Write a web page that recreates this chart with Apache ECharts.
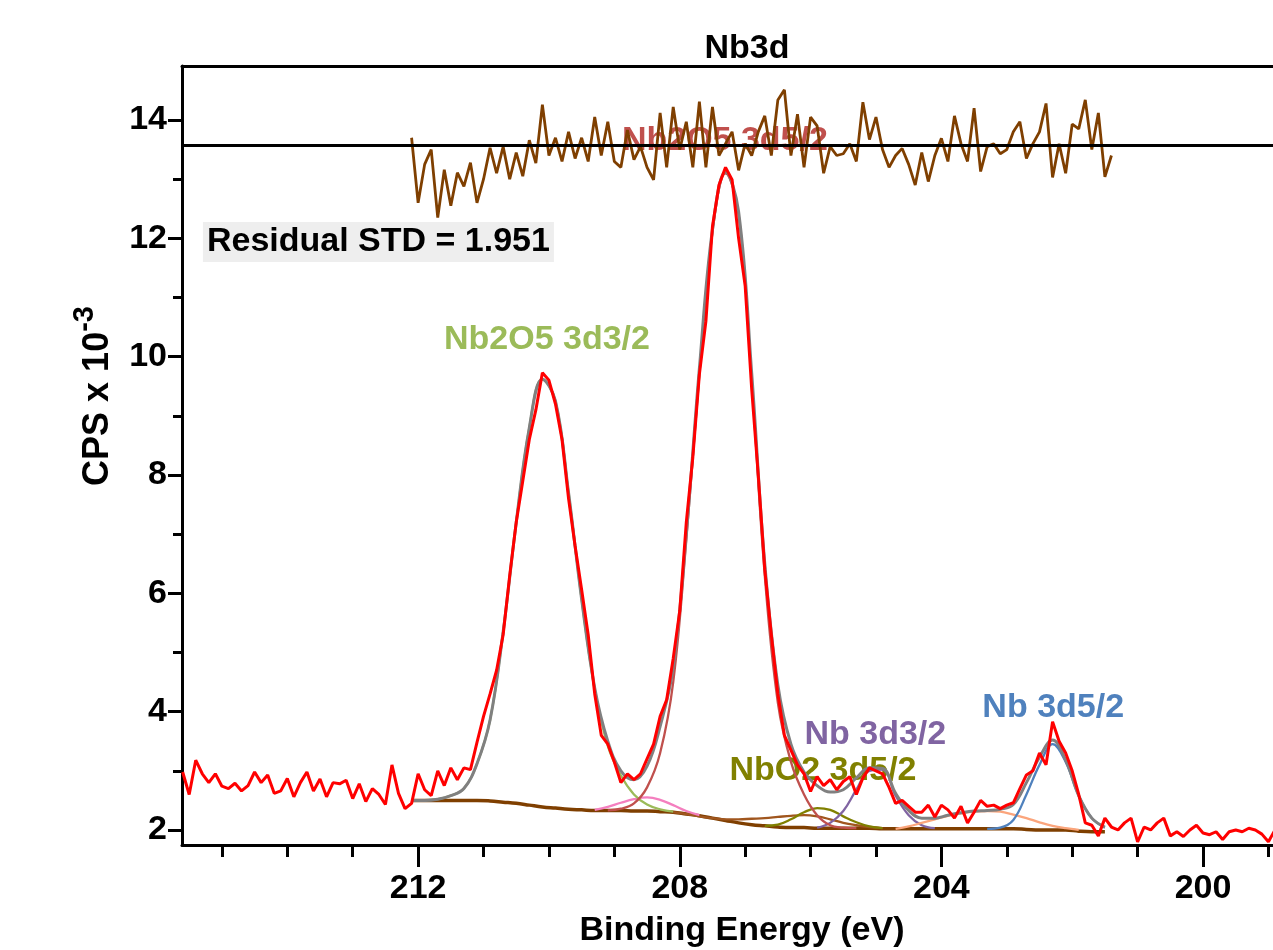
<!DOCTYPE html>
<html>
<head>
<meta charset="utf-8">
<title>Nb3d</title>
<script src="https://cdn.jsdelivr.net/npm/echarts@6.0.0/dist/echarts.min.js"></script>
<style>
  html, body { margin: 0; padding: 0; background: #fff; }
  #xpsChart { width: 1273px; height: 950px; }
</style>
</head>
<body>
<div id="xpsChart"></div>
<script>
// measured spectrum, binding energy (eV), 0.1 eV step
var rawEnergy = [
  215.6, 215.5, 215.4, 215.3, 215.2, 215.1, 215.0, 214.9, 214.8, 214.7,
  214.6, 214.5, 214.4, 214.3, 214.2, 214.1, 214.0, 213.9, 213.8, 213.7,
  213.6, 213.5, 213.4, 213.3, 213.2, 213.1, 213.0, 212.9, 212.8, 212.7,
  212.6, 212.5, 212.4, 212.3, 212.2, 212.1, 212.0, 211.9, 211.8, 211.7,
  211.6, 211.5, 211.4, 211.3, 211.2, 211.1, 211.0, 210.9, 210.8, 210.7,
  210.6, 210.5, 210.4, 210.3, 210.2, 210.1, 210.0, 209.9, 209.8, 209.7,
  209.6, 209.5, 209.4, 209.3, 209.2, 209.1, 209.0, 208.9, 208.8, 208.7,
  208.6, 208.5, 208.4, 208.3, 208.2, 208.1, 208.0, 207.9, 207.8, 207.7,
  207.6, 207.5, 207.4, 207.3, 207.2, 207.1, 207.0, 206.9, 206.8, 206.7,
  206.6, 206.5, 206.4, 206.3, 206.2, 206.1, 206.0, 205.9, 205.8, 205.7,
  205.6, 205.5, 205.4, 205.3, 205.2, 205.1, 205.0, 204.9, 204.8, 204.7,
  204.6, 204.5, 204.4, 204.3, 204.2, 204.1, 204.0, 203.9, 203.8, 203.7,
  203.6, 203.5, 203.4, 203.3, 203.2, 203.1, 203.0, 202.9, 202.8, 202.7,
  202.6, 202.5, 202.4, 202.3, 202.2, 202.1, 202.0, 201.9, 201.8, 201.7,
  201.6, 201.5, 201.4, 201.3, 201.2, 201.1, 201.0, 200.9, 200.8, 200.7,
  200.6, 200.5, 200.4, 200.3, 200.2, 200.1, 200.0, 199.9, 199.8, 199.7,
  199.6, 199.5, 199.4, 199.3, 199.2, 199.1, 199.0, 198.9
];
// CPS x 10^-3
var rawCounts = [
  2.98, 2.6, 3.18, 2.95, 2.8, 2.95, 2.74, 2.7, 2.79, 2.66,
  2.75, 2.98, 2.8, 2.93, 2.62, 2.66, 2.87, 2.56, 2.8, 2.98,
  2.66, 2.86, 2.56, 2.8, 2.78, 2.84, 2.53, 2.78, 2.48, 2.7,
  2.6, 2.43, 3.1, 2.62, 2.36, 2.45, 2.95, 2.68, 2.58, 3.0,
  2.75, 3.05, 2.85, 3.05, 3.02, 3.48, 3.92, 4.3, 4.7, 5.3,
  6.3, 7.2, 7.9, 8.6, 9.1, 9.73, 9.6, 9.2, 8.6, 7.6,
  6.8, 6.06, 5.3, 4.3, 3.6, 3.45, 3.15, 2.8, 2.95, 2.85,
  2.95, 3.2, 3.45, 3.92, 4.2, 4.9, 5.7, 7.2, 8.3, 9.7,
  10.6, 12.2, 12.9, 13.2, 12.99, 12.0, 11.2, 9.45, 8.0, 6.4,
  5.3, 4.3, 3.6, 3.35, 3.1, 2.95, 2.65, 2.9, 2.75, 2.85,
  2.68, 2.82, 2.9, 2.6, 2.88, 3.05, 3.0, 2.95, 2.72, 2.45,
  2.5, 2.4, 2.3, 2.3, 2.42, 2.22, 2.42, 2.34, 2.2, 2.4,
  2.12, 2.3, 2.5, 2.4, 2.42, 2.36, 2.42, 2.46, 2.7, 2.93,
  3.0, 3.3, 3.1, 3.83, 3.5, 3.3, 3.0, 2.6, 2.12, 2.08,
  1.9, 2.2, 2.05, 2.0, 2.12, 2.2, 1.8, 2.05, 2.0, 2.12,
  2.2, 1.9, 1.97, 1.89, 2.0, 2.08, 1.95, 1.92, 1.97, 1.84,
  1.97, 2.0, 1.97, 2.03, 2.0, 1.93, 1.8, 2.0
];

// fitted curves, 0.2 eV step
var fitEnergy = [
  212.1, 211.9, 211.7, 211.5, 211.3, 211.1, 210.9, 210.7, 210.5, 210.3,
  210.1, 209.9, 209.7, 209.5, 209.3, 209.1, 208.9, 208.7, 208.5, 208.3,
  208.1, 207.9, 207.7, 207.5, 207.3, 207.1, 206.9, 206.7, 206.5, 206.3,
  206.1, 205.9, 205.7, 205.5, 205.3, 205.1, 204.9, 204.7, 204.5, 204.3,
  204.1, 203.9, 203.7, 203.5, 203.3, 203.1, 202.9, 202.7, 202.5, 202.3,
  202.1, 201.9, 201.7, 201.5
];
var backgroundFit = [
  2.5, 2.5, 2.5, 2.5, 2.5, 2.5, 2.49, 2.47, 2.45, 2.42,
  2.39, 2.37, 2.35, 2.34, 2.33, 2.33, 2.33, 2.32, 2.32, 2.31,
  2.3, 2.27, 2.24, 2.2, 2.16, 2.12, 2.09, 2.07, 2.05, 2.04,
  2.04, 2.03, 2.03, 2.03, 2.03, 2.03, 2.02, 2.02, 2.02, 2.02,
  2.02, 2.02, 2.02, 2.02, 2.02, 2.02, 2.02, 2.01, 2.0, 2.0,
  2.0, 1.98, 1.97, 1.97
];
var envelopeFit = [
  2.5, 2.5, 2.52, 2.58, 2.7, 3.12, 3.86, 5.35, 7.2, 8.8,
  9.62, 9.25, 7.7, 5.9, 4.4, 3.5, 3.0, 2.85, 3.08, 3.75,
  4.75, 7.0, 9.8, 12.15, 13.12, 12.45, 9.72, 6.5, 4.45, 3.45,
  2.98, 2.75, 2.64, 2.68, 2.88, 3.05, 3.04, 2.62, 2.33, 2.2,
  2.2, 2.25, 2.29, 2.32, 2.33, 2.35, 2.43, 2.8, 3.23, 3.52,
  3.18, 2.58, 2.2, 2.05
];
var nb2o5_32 = [
  null, 2.5, 2.52, 2.58, 2.7, 3.12, 3.86, 5.35, 7.2, 8.8,
  9.62, 9.25, 7.7, 5.9, 4.38, 3.42, 2.92, 2.6, 2.43, 2.35,
  2.31, null, null, null, null, null, null, null, null, null,
  null, null, null, null, null, null, null, null, null, null,
  null, null, null, null, null, null, null, null, null, null,
  null, null, null, null
];
var nb2o5_52 = [
  null, null, null, null, null, null, null, null, null, null,
  null, null, null, null, null, 2.33, 2.36, 2.45, 2.72, 3.3,
  4.5, 6.9, 9.7, 12.1, 13.1, 12.4, 9.6, 6.3, 4.15, 3.15,
  2.6, 2.25, 2.08, 2.04, 2.03, null, null, null, null, null,
  null, null, null, null, null, null, null, null, null, null,
  null, null, null, null
];
var nbo2_32 = [
  null, null, null, null, null, null, null, null, null, null,
  null, null, null, null, 2.34, 2.39, 2.46, 2.52, 2.55, 2.51,
  2.42, 2.32, 2.25, null, null, null, null, null, null, null,
  null, null, null, null, null, null, null, null, null, null,
  null, null, null, null, null, null, null, null, null, null,
  null, null, null, null
];
var nbo_32 = [
  null, null, null, null, null, null, null, null, null, null,
  null, null, null, null, null, null, null, null, null, null,
  2.3, 2.27, 2.23, 2.2, 2.18, 2.18, 2.19, 2.2, 2.22, 2.24,
  2.25, 2.23, 2.18, 2.12, 2.08, 2.05, 2.03, null, null, null,
  null, null, null, null, null, null, null, null, null, null,
  null, null, null, null
];
var nbo2_52 = [
  null, null, null, null, null, null, null, null, null, null,
  null, null, null, null, null, null, null, null, null, null,
  null, null, null, null, null, null, null, 2.07, 2.09, 2.18,
  2.3, 2.37, 2.34, 2.23, 2.13, 2.06, 2.03, null, null, null,
  null, null, null, null, null, null, null, null, null, null,
  null, null, null, null
];
var nb_32 = [
  null, null, null, null, null, null, null, null, null, null,
  null, null, null, null, null, null, null, null, null, null,
  null, null, null, null, null, null, null, null, null, null,
  null, 2.04, 2.12, 2.32, 2.68, 3.0, 3.02, 2.58, 2.25, 2.08,
  2.03, null, null, null, null, null, null, null, null, null,
  null, null, null, null
];
var nbo_52 = [
  null, null, null, null, null, null, null, null, null, null,
  null, null, null, null, null, null, null, null, null, null,
  null, null, null, null, null, null, null, null, null, null,
  null, null, null, null, null, null, null, 2.02, 2.06, 2.12,
  2.18, 2.24, 2.28, 2.31, 2.32, 2.31, 2.26, 2.2, 2.13, 2.07,
  2.03, 2.0, null, null
];
var nb_52 = [
  null, null, null, null, null, null, null, null, null, null,
  null, null, null, null, null, null, null, null, null, null,
  null, null, null, null, null, null, null, null, null, null,
  null, null, null, null, null, null, null, null, null, null,
  null, null, null, null, 2.02, 2.04, 2.17, 2.6, 3.1, 3.45,
  3.15, 2.58, 2.2, 2.04
];

// residual (offset, drawn round 13.58), same points as raw from 212.1 to 201.4
var residualEnergy = rawEnergy.slice(35, 143);
var residualCounts = [
  13.7, 12.6, 13.25, 13.5, 12.35, 13.16, 12.55, 13.11, 12.88, 13.28,
  12.6, 13.0, 13.53, 13.1, 13.55, 13.0, 13.45, 13.05, 13.66, 13.27,
  14.26, 13.4, 13.7, 13.3, 13.8, 13.35, 13.7, 13.3, 14.05, 13.4,
  13.97, 13.3, 13.2, 13.83, 13.33, 13.55, 13.2, 12.99, 14.12, 13.2,
  14.22, 13.5, 13.97, 13.2, 14.31, 13.2, 14.22, 13.4, 13.6, 13.8,
  13.15, 13.6, 13.4, 13.8, 14.07, 13.4, 14.34, 14.51, 13.4, 14.1,
  13.2, 14.05, 13.9, 13.1, 13.55, 13.4, 13.43, 13.6, 13.3, 14.3,
  13.67, 14.05, 13.5, 13.2, 13.4, 13.52, 13.25, 12.9, 13.45, 12.96,
  13.4, 13.69, 13.3, 14.07, 13.6, 13.3, 14.2, 13.13, 13.55, 13.6,
  13.43, 13.5, 13.8, 13.97, 13.35, 13.6, 13.8, 14.28, 13.03, 13.6,
  13.1, 13.93, 13.85, 14.34, 13.5, 14.12, 13.04, 13.4
];
var residualZero = 13.58;

var xMajorTicks = [200, 204, 208, 212];
var xMinorTicks = [199, 201, 202, 203, 205, 206, 207, 209, 210, 211, 213, 214, 215];
var yMajorTicks = [2, 4, 6, 8, 10, 12, 14];
var yMinorTicks = [3, 5, 7, 9, 11, 13];

var FONT = "'Liberation Sans', Arial, sans-serif";
var FS = 34;

function pairs(xs, ys) {
  return xs.map(function (x, i) {
    return [x, ys[i]];
  });
}

function fitLine(name, ys, color, width) {
  return {
    name: name,
    type: "line",
    data: pairs(fitEnergy, ys),
    smooth: 0.4,
    showSymbol: false,
    symbol: "none",
    silent: true,
    lineStyle: { color: color, width: width || 2.3 },
  };
}

function peakLabel(text, e, v, color) {
  return {
    coord: [e, v],
    symbolSize: 0,
    label: {
      show: true,
      position: "inside",
      formatter: text,
      color: color,
      fontFamily: FONT,
      fontWeight: "bold",
      fontSize: FS,
    },
  };
}

var xMin = 198.93, xMax = 215.61;
var yMin = 1.746, yMax = 14.913;

var myChart = echarts.init(document.getElementById("xpsChart"));

var axisLineStyle = { color: "#000", width: 3 };

var option = {
  animation: false,
  backgroundColor: "#fff",
  title: {
    text: "Nb3d",
    left: 742,
    top: 27,
    textAlign: "center",
    textStyle: { fontFamily: FONT, fontWeight: "bold", fontSize: FS, color: "#000" },
  },
  grid: { left: 182, right: 0, top: 66, bottom: 105 },
  xAxis: [
    {
      type: "value",
      min: xMin,
      max: xMax,
      inverse: true,
      position: "bottom",
      axisLine: { show: true, lineStyle: axisLineStyle },
      axisTick: { show: true, customValues: xMajorTicks, length: 22, lineStyle: axisLineStyle },
      axisLabel: {
        customValues: xMajorTicks,
        margin: 27,
        color: "#000",
        fontFamily: FONT,
        fontWeight: "bold",
        fontSize: FS,
      },
      splitLine: { show: false },
    },
    {
      // minor ticks
      type: "value",
      min: xMin,
      max: xMax,
      inverse: true,
      position: "bottom",
      axisLine: { show: false },
      axisTick: { show: true, customValues: xMinorTicks, length: 12, lineStyle: axisLineStyle },
      axisLabel: { show: false },
      splitLine: { show: false },
    },
    {
      // top frame
      type: "value",
      min: xMin,
      max: xMax,
      inverse: true,
      position: "top",
      axisLine: { show: true, lineStyle: axisLineStyle },
      axisTick: { show: false },
      axisLabel: { show: false },
      splitLine: { show: false },
    },
  ],
  yAxis: [
    {
      type: "value",
      min: yMin,
      max: yMax,
      position: "left",
      axisLine: { show: true, lineStyle: axisLineStyle },
      axisTick: { show: true, customValues: yMajorTicks, length: 14, lineStyle: axisLineStyle },
      axisLabel: {
        customValues: yMajorTicks,
        margin: 15,
        color: "#000",
        fontFamily: FONT,
        fontWeight: "bold",
        fontSize: FS,
      },
      splitLine: { show: false },
    },
    {
      type: "value",
      min: yMin,
      max: yMax,
      position: "left",
      axisLine: { show: false },
      axisTick: { show: true, customValues: yMinorTicks, length: 9, lineStyle: axisLineStyle },
      axisLabel: { show: false },
      splitLine: { show: false },
    },
  ],
  graphic: [
    {
      type: "text",
      x: 742,
      y: 931,
      style: {
        text: "Binding Energy (eV)",
        align: "center",
        verticalAlign: "middle",
        fill: "#000",
        fontFamily: FONT,
        fontWeight: "bold",
        fontSize: FS,
      },
    },
    {
      type: "text",
      x: 98,
      y: 396,
      rotation: Math.PI / 2,
      style: {
        text: "{a|CPS x 10}{b|-3}",
        align: "center",
        verticalAlign: "middle",
        fill: "#000",
        rich: {
          a: { fontFamily: FONT, fontWeight: "bold", fontSize: 36, fill: "#000" },
          b: { fontFamily: FONT, fontWeight: "bold", fontSize: 29, fill: "#000", padding: [0, 0, 26, 0] },
        },
      },
    },
  ],
  series: [
    Object.assign(fitLine("Background", backgroundFit, "#7f3f00", 3.5), {
      markPoint: {
        z: 1,
        silent: true,
        symbol: "circle",
        data: [
          peakLabel("Nb2O5 3d5/2", 207.31, 13.66, "#c0504d"),
          peakLabel("Nb2O5 3d3/2", 210.03, 10.28, "#9bbb59"),
          peakLabel("Nb 3d3/2", 205.01, 3.62, "#8064a2"),
          peakLabel("NbO2 3d5/2", 205.81, 3.01, "#808000"),
          peakLabel("Nb 3d5/2", 202.29, 4.06, "#4f81bd"),
          {
            coord: [215.29, 11.94],
            symbolSize: 0,
            label: {
              show: true,
              position: "right",
              distance: 0,
              formatter: "Residual STD = 1.951",
              color: "#000",
              backgroundColor: "#eeeeee",
              padding: [4, 4, 2, 4],
              fontFamily: FONT,
              fontWeight: "bold",
              fontSize: FS,
            },
          },
        ],
      },
    }),
    fitLine("NbO 3d3/2", nbo_32, "#a0561e"),
    fitLine("NbO2 3d3/2", nbo2_32, "#f47fbf"),
    fitLine("NbO2 3d5/2", nbo2_52, "#808000"),
    fitLine("Nb 3d3/2", nb_32, "#8064a2"),
    fitLine("NbO 3d5/2", nbo_52, "#fba57c"),
    fitLine("Nb 3d5/2", nb_52, "#4f81bd"),
    fitLine("Nb2O5 3d3/2", nb2o5_32, "#9bbb59"),
    fitLine("Nb2O5 3d5/2", nb2o5_52, "#c0504d"),
    fitLine("Envelope", envelopeFit, "#808080", 3),
    {
      name: "Raw",
      type: "line",
      data: pairs(rawEnergy, rawCounts),
      showSymbol: false,
      symbol: "none",
      silent: true,
      lineStyle: { color: "#ff0000", width: 3 },
    },
    {
      name: "Residual",
      type: "line",
      data: pairs(residualEnergy, residualCounts),
      showSymbol: false,
      symbol: "none",
      silent: true,
      lineStyle: { color: "#7f3f00", width: 2.8 },
      markLine: {
        silent: true,
        symbol: "none",
        label: { show: false },
        lineStyle: { color: "#000", width: 2.8, type: "solid" },
        data: [{ yAxis: residualZero }],
      },
    },
  ],
};

myChart.setOption(option);
window.addEventListener("resize", function () {
  if (myChart) myChart.resize();
});
</script>
</body>
</html>
